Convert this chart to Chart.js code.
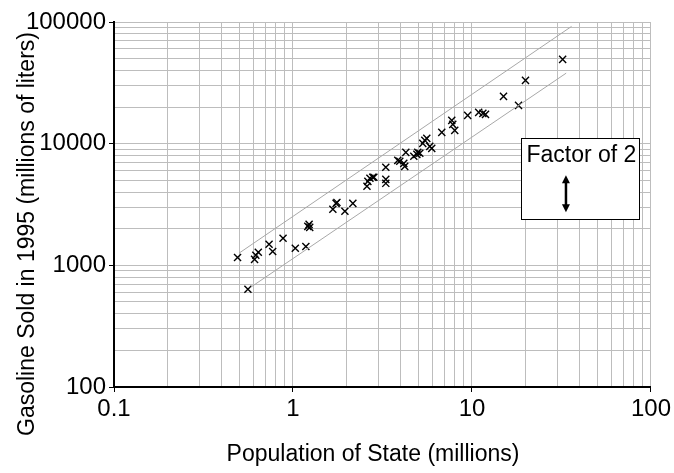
<!DOCTYPE html>
<html>
<head>
<meta charset="utf-8">
<script src="https://cdn.jsdelivr.net/npm/chart.js@4/dist/chart.umd.min.js"></script>
<style>
html,body{margin:0;padding:0;background:#fff;}
#c{display:block;}
</style>
</head>
<body>
<canvas id="c" width="674" height="473"></canvas>
<script>
// Population of state (millions)
const population = [0.49,0.56,0.61,0.62,0.64,0.735,0.77,0.88,1.03,1.18,1.21,1.23,1.24,1.67,1.74,1.76,1.95,2.16,2.59,2.62,2.69,2.79,2.83,3.30,3.30,3.30,3.85,3.95,4.16,4.21,4.27,4.73,4.92,4.98,5.11,5.31,5.45,5.59,5.81,5.96,6.78,7.71,7.81,8.01,9.46,10.9,11.5,11.9,15.0,18.2,19.9,32.1];
// Gasoline sold in 1995 (millions of liters)
const gasoline = [1160,635,1120,1210,1280,1490,1300,1670,1380,1430,2090,2170,2050,2890,3230,3290,2780,3230,4460,4900,5190,5290,5300,6390,5090,4720,7290,7160,6890,6510,8480,7870,8170,8480,8330,10060,10650,11050,9500,9150,12380,15540,14410,12860,17080,18080,17740,17410,24470,20640,33130,49280];
// Factor-of-2 band lines
const upperLineX = [0.5, 36];
const upperLineY = [1260, 92000];
const lowerLineX = [0.58, 33.6];
const lowerLineY = [660, 38000];
// Axis tick labels (decades)
const xTickLabels = [0.1, 1, 10, 100];
const yTickLabels = [100, 1000, 10000, 100000];
// Texts
const xTitle = 'Population of State (millions)';
const yTitle = 'Gasoline Sold in 1995 (millions of liters)';
const annotationText = "Factor of 2";

const FONT = "'Liberation Sans', Arial, sans-serif";

function decadeTicks(labels){
  const out = [];
  for (let i = 0; i < labels.length - 1; i++) {
    for (let k = 1; k <= 9; k++) out.push({value: labels[i] * k});
  }
  out.push({value: labels[labels.length - 1]});
  return out;
}
function isMajor(v, labels){
  return labels.some(l => Math.abs(v - l) / l < 1e-6);
}

const pts = population.map((p, i) => ({x: p, y: gasoline[i]}));
const upper = upperLineX.map((x, i) => ({x, y: upperLineY[i]}));
const lower = lowerLineX.map((x, i) => ({x, y: lowerLineY[i]}));

const decorPlugin = {
  id: 'decor',
  afterDraw(chart){
    const {ctx, scales:{x, y}} = chart;
    const X = v => x.getPixelForValue(v), Y = v => y.getPixelForValue(v);
    ctx.save();
    // axis titles
    ctx.fillStyle = '#000';
    ctx.font = "23px " + FONT;
    ctx.textAlign = 'center';
    ctx.textBaseline = 'middle';
    ctx.fillText(xTitle, 373, 455);
    ctx.save();
    ctx.translate(28, 234);
    ctx.rotate(-Math.PI / 2);
    ctx.font = "23px " + FONT;
    ctx.fillText(yTitle, 0, 0);
    ctx.restore();
    // annotation box
    const left = X(18.9), right = X(86), top = Y(11060), bottom = Y(2390);
    ctx.fillStyle = '#fff';
    ctx.strokeStyle = '#000';
    ctx.lineWidth = 1;
    ctx.fillRect(left, top, right - left, bottom - top);
    ctx.strokeRect(Math.round(left) + 0.5, Math.round(top) + 0.5, Math.round(right - left), Math.round(bottom - top));
    ctx.fillStyle = '#000';
    ctx.font = "23px " + FONT;
    ctx.fillText(annotationText, (left + right) / 2 + 1, Y(8013));
    // double arrow
    const ax = X(33.5), ay0 = Y(5490), ay1 = Y(2726);
    ctx.lineWidth = 2.5;
    ctx.beginPath();
    ctx.moveTo(ax, ay0 + 5); ctx.lineTo(ax, ay1 - 5); ctx.stroke();
    ctx.beginPath();
    ctx.moveTo(ax, ay0); ctx.lineTo(ax - 4, ay0 + 8); ctx.lineTo(ax + 4, ay0 + 8); ctx.closePath(); ctx.fill();
    ctx.beginPath();
    ctx.moveTo(ax, ay1); ctx.lineTo(ax - 4, ay1 - 8); ctx.lineTo(ax + 4, ay1 - 8); ctx.closePath(); ctx.fill();
    ctx.restore();
  }
};

Chart.defaults.font.family = FONT;
Chart.defaults.color = '#000';

new Chart(document.getElementById('c'), {
  type: 'scatter',
  data: {
    datasets: [
      {data: upper, type: 'line', showLine: true, borderColor: '#a8a8a8', borderWidth: 1, pointRadius: 0, fill: false},
      {data: lower, type: 'line', showLine: true, borderColor: '#a8a8a8', borderWidth: 1, pointRadius: 0, fill: false},
      {data: pts, pointStyle: 'crossRot', pointRadius: 5, borderColor: '#000', backgroundColor: '#000', pointBorderWidth: 1.4, pointHoverRadius: 5}
    ]
  },
  options: {
    responsive: false,
    animation: false,
    devicePixelRatio: 1,
    events: [],
    layout: {padding: {top: 22, right: 22, left: 0, bottom: 0}},
    plugins: {legend: {display: false}, tooltip: {enabled: false}},
    scales: {
      x: {
        type: 'logarithmic',
        min: xTickLabels[0], max: xTickLabels[xTickLabels.length - 1],
        afterBuildTicks: s => { s.ticks = decadeTicks(xTickLabels); },
        afterFit: s => { s.height = 86; },
        ticks: {
          autoSkip: false, maxRotation: 0, padding: 3,
          font: {size: 24},
          callback: v => isMajor(v, xTickLabels) ? String(v) : ''
        },
        grid: {
          color: '#bdbdbd', lineWidth: 1, tickLength: 5,
          tickColor: c => isMajor(c.tick.value, xTickLabels) ? '#000' : 'rgba(0,0,0,0)'
        },
        border: {color: '#000', width: 2},
        title: {display: false}
      },
      y: {
        type: 'logarithmic',
        min: yTickLabels[0], max: yTickLabels[yTickLabels.length - 1],
        afterBuildTicks: s => { s.ticks = decadeTicks(yTickLabels); },
        afterFit: s => { s.width = 114; },
        ticks: {
          autoSkip: false, padding: 3,
          font: {size: 24},
          callback: v => isMajor(v, yTickLabels) ? String(v) : ''
        },
        grid: {
          color: '#bdbdbd', lineWidth: 1, tickLength: 5,
          tickColor: c => isMajor(c.tick.value, yTickLabels) ? '#000' : 'rgba(0,0,0,0)'
        },
        border: {color: '#000', width: 2},
        title: {display: false}
      }
    }
  },
  plugins: [decorPlugin]
});
</script>
</body>
</html>
